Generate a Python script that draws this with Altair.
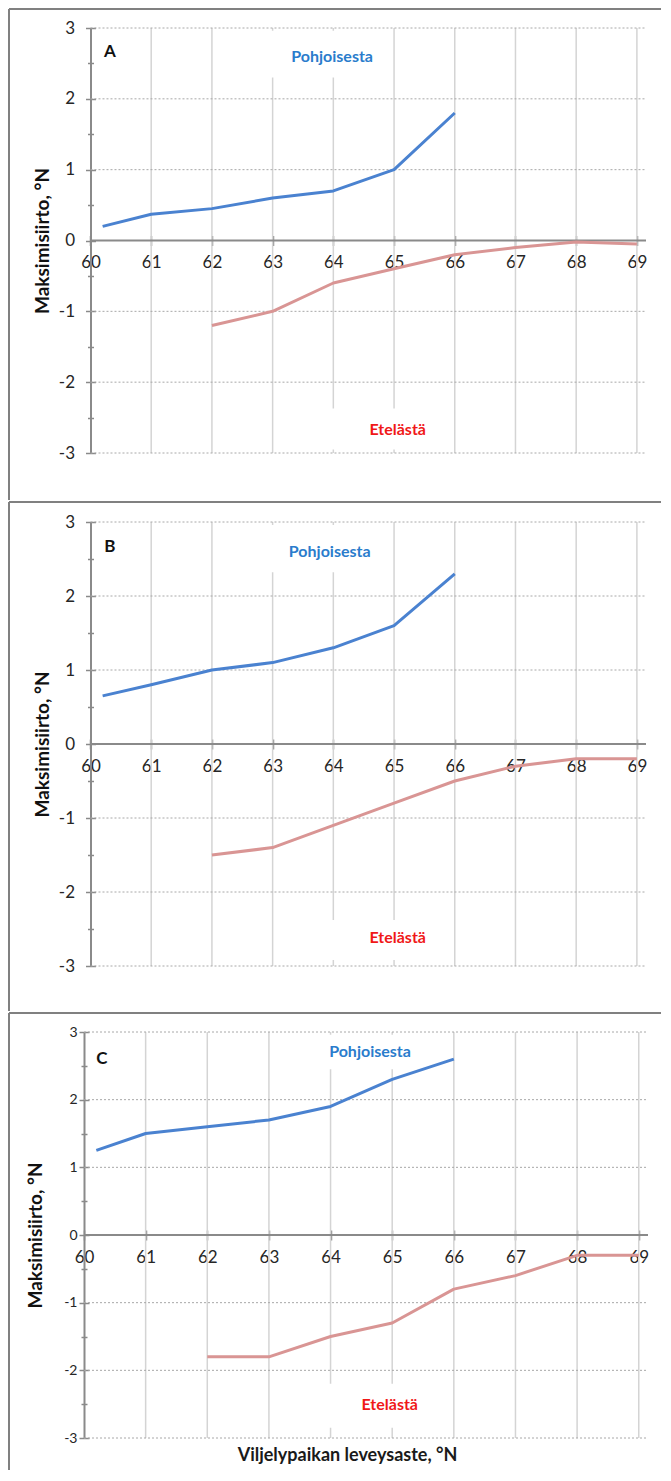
import altair as alt
import pandas as pd

# ---------------- data ----------------
LAT_NORTH = [60.2, 61, 62, 63, 64, 65, 66]
LAT_SOUTH = [62, 63, 64, 65, 66, 67, 68, 69]
NORTH_A = [0.20, 0.37, 0.45, 0.60, 0.70, 1.00, 1.80]
SOUTH_A = [-1.20, -1.00, -0.60, -0.40, -0.20, -0.10, -0.02, -0.05]
NORTH_B = [0.65, 0.80, 1.00, 1.10, 1.30, 1.60, 2.30]
SOUTH_B = [-1.50, -1.40, -1.10, -0.80, -0.50, -0.30, -0.20, -0.20]
NORTH_C = [1.25, 1.50, 1.60, 1.70, 1.90, 2.30, 2.60]
SOUTH_C = [-1.80, -1.80, -1.50, -1.30, -0.80, -0.60, -0.30, -0.30]
NORTH = [NORTH_A, NORTH_B, NORTH_C]
SOUTH = [SOUTH_A, SOUTH_B, SOUTH_C]

PANEL_LETTERS = ["A", "B", "C"]
X_TICKS = [60, 61, 62, 63, 64, 65, 66, 67, 68, 69]
GRID_X = [61, 62, 63, 64, 65, 66, 67, 68, 69]
Y_TICKS = [-3, -2, -1, 0, 1, 2, 3]
Y_GRID = [-3, -2, -1, 1, 2, 3]
Y_MINOR = [-2.5, -1.5, -0.5, 0.5, 1.5, 2.5]
Y_TITLE = "Maksimisiirto, °N"
X_TITLE = "Viljelypaikan leveysaste, °N"
LABEL_N = "Pohjoisesta"
LABEL_S = "Etelästä"

# annotation placement (data units)
LETTER_POS = [(60.32, 2.66), (60.32, 2.66), (60.29, 2.60)]
NLABEL_POS = [(63.98, 2.59), (63.94, 2.59), (64.64, 2.70)]
SLABEL_POS = [(65.06, -2.68), (65.06, -2.62), (64.96, -2.51)]
NBOX = [(62.88, 64.85, 2.30, 2.96), (62.88, 64.85, 2.32, 2.96), (63.7, 65.5, 2.45, 2.96)]
SBOX = [(63.85, 65.6, -2.37, -2.95), (63.85, 65.6, -2.38, -2.92), (63.85, 65.6, -2.20, -2.85)]

# ---------------- layout ----------------
HEIGHTS = [425, 444, 406]
WIDTHS = [562, 562, 564]
X_START = [59.893, 59.893, 60.0]
X_END = 69.15
AXIS_SHIFT = [6.5, 6.5, 0.0]
TOP_BORDER = [-19, -20, -19]
BOTTOM_BORDER = [472, 489, 438]
BORDER_LEFT = -75
BORDER_RIGHT = 577
YLAB_SIZE = [17, 17, 14]
YLAB_PAD = [11, 11, 2]

FONT = "Lato"
BLUE = "#4a82d0"
RED = "#d99594"
BLUE_TXT = "#2a7ccc"
RED_TXT = "#f01818"
AXC = "#8a8a8a"
BORDER = "#808080"
LAB = "#262626"
PLAIN_LABEL = "datum.value < 0 ? '-' + abs(datum.value) : '' + datum.value"


def panel(i):
    h, w = HEIGHTS[i], WIDTHS[i]
    sh = AXIS_SHIFT[i]
    xs = alt.Scale(domain=[X_START[i], X_END], nice=False, zero=False)
    ys = alt.Scale(domain=[-3, 3], nice=False, zero=False)

    left_main = alt.Axis(
        orient="left", offset=-sh, values=Y_TICKS, tickSize=5, tickWidth=1.5,
        tickColor=AXC, domainColor=AXC, domainWidth=2, grid=False,
        labelFont=FONT, labelFontSize=YLAB_SIZE[i], labelColor=LAB,
        labelPadding=YLAB_PAD[i], labelExpr=PLAIN_LABEL,
        title=Y_TITLE, titleFont=FONT, titleFontSize=19, titleFontWeight="bold",
        titleColor="#111111", titleAngle=-90, titleX=-48.5, titleY=h / 2,
        titleAlign="center", titleBaseline="middle",
    )
    left_minor = alt.Axis(
        orient="left", offset=-sh, values=Y_MINOR, tickSize=3, tickWidth=1.5,
        tickColor=AXC, domain=False, labels=False, grid=False, title=None,
    )
    right_major = alt.Axis(
        orient="right", offset=-(w - sh), values=Y_TICKS, tickSize=5, tickWidth=1.5,
        tickColor=AXC, domain=False, labels=False, grid=False, title=None,
    )
    right_minor = alt.Axis(
        orient="right", offset=-(w - sh), values=Y_MINOR, tickSize=3, tickWidth=1.5,
        tickColor=AXC, domain=False, labels=False, grid=False, title=None,
    )
    bottom_kw = dict(
        orient="bottom", offset=-h / 2, values=X_TICKS, tickSize=5, tickWidth=1.5,
        tickColor=AXC, domain=False, grid=False, labelFont=FONT, labelFontSize=17,
        labelColor=LAB, labelPadding=9, labelFlush=False, labelOverlap=False,
        labelExpr=PLAIN_LABEL,
    )
    if i == 2:
        bottom_kw.update(
            title=X_TITLE, titleFont=FONT, titleFontSize=18, titleFontWeight="bold",
            titleColor="#1a1a1a", titleX=263, titleY=220, titleAlign="center",
            titleBaseline="middle",
        )
    else:
        bottom_kw.update(title=None)
    bottom_axis = alt.Axis(**bottom_kw)
    top_cross = alt.Axis(
        orient="top", offset=-h / 2, values=X_TICKS, tickSize=5, tickWidth=1.5,
        tickColor=AXC, domain=False, labels=False, grid=False, title=None,
    )

    one = pd.DataFrame({"k": [0]})

    vgrid = alt.Chart(pd.DataFrame({"lat": GRID_X})).mark_rule(
        color="#d4d4d4", strokeWidth=1.5
    ).encode(
        x=alt.X("lat:Q", scale=xs, axis=None),
        y=alt.value(0), y2=alt.value(h),
    )
    hgrid = alt.Chart(pd.DataFrame({"v": Y_GRID})).mark_rule(
        color="#a8a8a8", strokeWidth=1, strokeDash=[2, 2]
    ).encode(
        y=alt.Y("v:Q", scale=ys, axis=right_major),
        x=alt.X(datum=60, scale=xs, axis=None),
        x2=alt.X2(datum=X_END),
    )
    nb = NBOX[i]
    sb = SBOX[i]
    boxes = alt.Chart(pd.DataFrame({
        "x1": [nb[0], sb[0]], "x2": [nb[1], sb[1]],
        "y1": [nb[2], sb[2]], "y2": [nb[3], sb[3]],
    })).mark_rect(color="white").encode(
        x=alt.X("x1:Q", scale=xs, axis=None), x2="x2:Q",
        y=alt.Y("y1:Q", scale=ys, axis=right_minor), y2="y2:Q",
    )
    zero = alt.Chart(one).mark_rule(color=AXC, strokeWidth=2).encode(
        y=alt.Y(datum=0, scale=ys, axis=None),
        x=alt.X(datum=60, scale=xs, axis=None),
        x2=alt.X2(datum=X_END),
    )
    south = alt.Chart(pd.DataFrame({"lat": LAT_SOUTH, "val": SOUTH[i]})).mark_line(
        color=RED, strokeWidth=3, strokeJoin="round"
    ).encode(
        x=alt.X("lat:Q", scale=xs, axis=top_cross),
        y=alt.Y("val:Q", scale=ys, axis=left_minor),
    )
    north = alt.Chart(pd.DataFrame({"lat": LAT_NORTH, "val": NORTH[i]})).mark_line(
        color=BLUE, strokeWidth=3, strokeJoin="round"
    ).encode(
        x=alt.X("lat:Q", scale=xs, axis=bottom_axis),
        y=alt.Y("val:Q", scale=ys, axis=left_main),
    )

    def label(pos, txt, color, size):
        return alt.Chart(pd.DataFrame({"x": [pos[0]], "y": [pos[1]], "t": [txt]})).mark_text(
            font=FONT, fontSize=size, fontWeight="bold", color=color,
            align="center", baseline="middle",
        ).encode(
            x=alt.X("x:Q", scale=xs, axis=None),
            y=alt.Y("y:Q", scale=ys, axis=None),
            text="t:N",
        )

    letter = label(LETTER_POS[i], PANEL_LETTERS[i], "#111111", 17)
    nlab = label(NLABEL_POS[i], LABEL_N, BLUE_TXT, 16)
    slab = label(SLABEL_POS[i], LABEL_S, RED_TXT, 16)

    top_line = alt.Chart(one).mark_rule(color=BORDER, strokeWidth=2).encode(
        x=alt.value(BORDER_LEFT), x2=alt.value(BORDER_RIGHT),
        y=alt.value(TOP_BORDER[i]),
    )
    left_line = alt.Chart(one).mark_rule(color=BORDER, strokeWidth=2).encode(
        x=alt.value(BORDER_LEFT),
        y=alt.value(TOP_BORDER[i]), y2=alt.value(BOTTOM_BORDER[i]),
    )

    return alt.layer(
        top_line, left_line, vgrid, hgrid, boxes, zero, south, north, letter, nlab, slab
    ).resolve_axis(x="independent", y="independent").properties(width=w, height=h)


chart = alt.vconcat(panel(0), panel(1), panel(2), spacing=0).configure(
    padding=0, background="white"
).configure_view(stroke=None)

chart.save("out.html", embed_options={"renderer": "svg", "actions": False})
